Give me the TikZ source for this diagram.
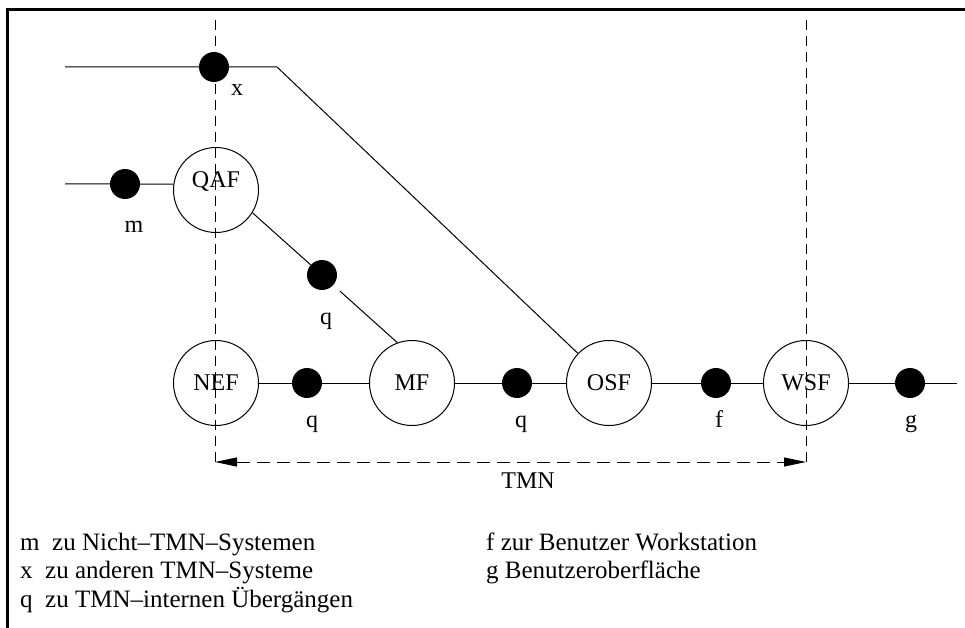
\documentclass[tikz,border=0pt]{standalone}
\usepackage{fontspec}
\setmainfont{Liberation Serif}
\usetikzlibrary{arrows.meta}
\begin{document}
\begin{tikzpicture}[x=1pt,y=-1pt,
  every node/.style={font=\fontsize{24}{29}\selectfont},
  func/.style={circle,draw,line width=1pt,minimum size=85pt,inner sep=0pt},
  dot/.style={circle,fill=black,minimum size=30pt,inner sep=0pt},
  conn/.style={line width=1pt},
  guide/.style={line width=1pt,dash pattern=on 10pt off 6pt},
  lbl/.style={anchor=base,inner sep=0pt},
  legend/.style={anchor=base west,inner sep=0pt,font=\fontsize{25}{30}\selectfont},
  >={Triangle[length=22pt,width=9pt]},
]
\useasboundingbox (0,0) rectangle (965,628);
% frame (top and left edges)
\draw[line width=3pt] (7,628) -- (7,9.5) -- (965,9.5);

% management functions
\node[func,text depth=20pt] (QAF) at (216,190) {QAF};
\node[func] (NEF) at (216,383) {NEF};
\node[func] (MF)  at (412,383) {MF};
\node[func] (OSF) at (609,383) {OSF};
\node[func] (WSF) at (806,383) {WSF};

% reference points
\node[dot] (X)  at (214,67)  {};
\node[dot] (M)  at (125,184) {};
\node[dot] (Q1) at (322,275) {};
\node[dot] (Q2) at (307,383) {};
\node[dot] (Q3) at (517,383) {};
\node[dot] (F)  at (716,383) {};
\node[dot] (G)  at (910,383) {};

% free line ends and TMN boundary
\coordinate (xin)  at (65,67);
\coordinate (bend) at (277,67);
\coordinate (min)  at (65,184);
\coordinate (gout) at (957,383);
\coordinate (lt) at (215,20);
\coordinate (lb) at (215,462);
\coordinate (rt) at (806,20);
\coordinate (rb) at (806,462);

% connections
\draw[conn] (xin) -- (bend) -- (OSF);
\draw[conn] (min) -- (M) -- (QAF.172);
\draw[conn,shorten <=9pt] (QAF.-32) -- (Q1) -- (MF.110);
\draw[conn] (NEF) -- (Q2) -- (MF) -- (Q3) -- (OSF) -- (F) -- (WSF) -- (G) -- (gout);

% TMN boundary
\draw[guide] (lt) -- (lb);
\draw[guide] (rt) -- (rb);
\draw[guide,dash pattern=on 13pt off 7pt,<->] (lb) -- (rb);

% point labels
\node[lbl] (lx)  at (237,96)  {x};
\node[lbl] (lm)  at (134,233) {m};
\node[lbl] (lq1) at (326,324) {q};
\node[lbl] (lq2) at (312,427) {q};
\node[lbl] (lq3) at (521,427) {q};
\node[lbl] (lf)  at (719,427) {f};
\node[lbl] (lg)  at (911,427) {g};
\node[lbl] (ltmn) at (528,488) {TMN};

% legend
\node[legend] (k1) at (20,550) {m\ \ zu Nicht–TMN–Systemen};
\node[legend] (k2) at (20,578) {x\ \ zu anderen TMN–Systeme};
\node[legend] (k3) at (20,607) {q\ \ zu TMN–internen Übergängen};
\node[legend] (k4) at (486,550) {f\ zur Benutzer Workstation};
\node[legend] (k5) at (486,578) {g\ Benutzeroberfläche};
\end{tikzpicture}
\end{document}
